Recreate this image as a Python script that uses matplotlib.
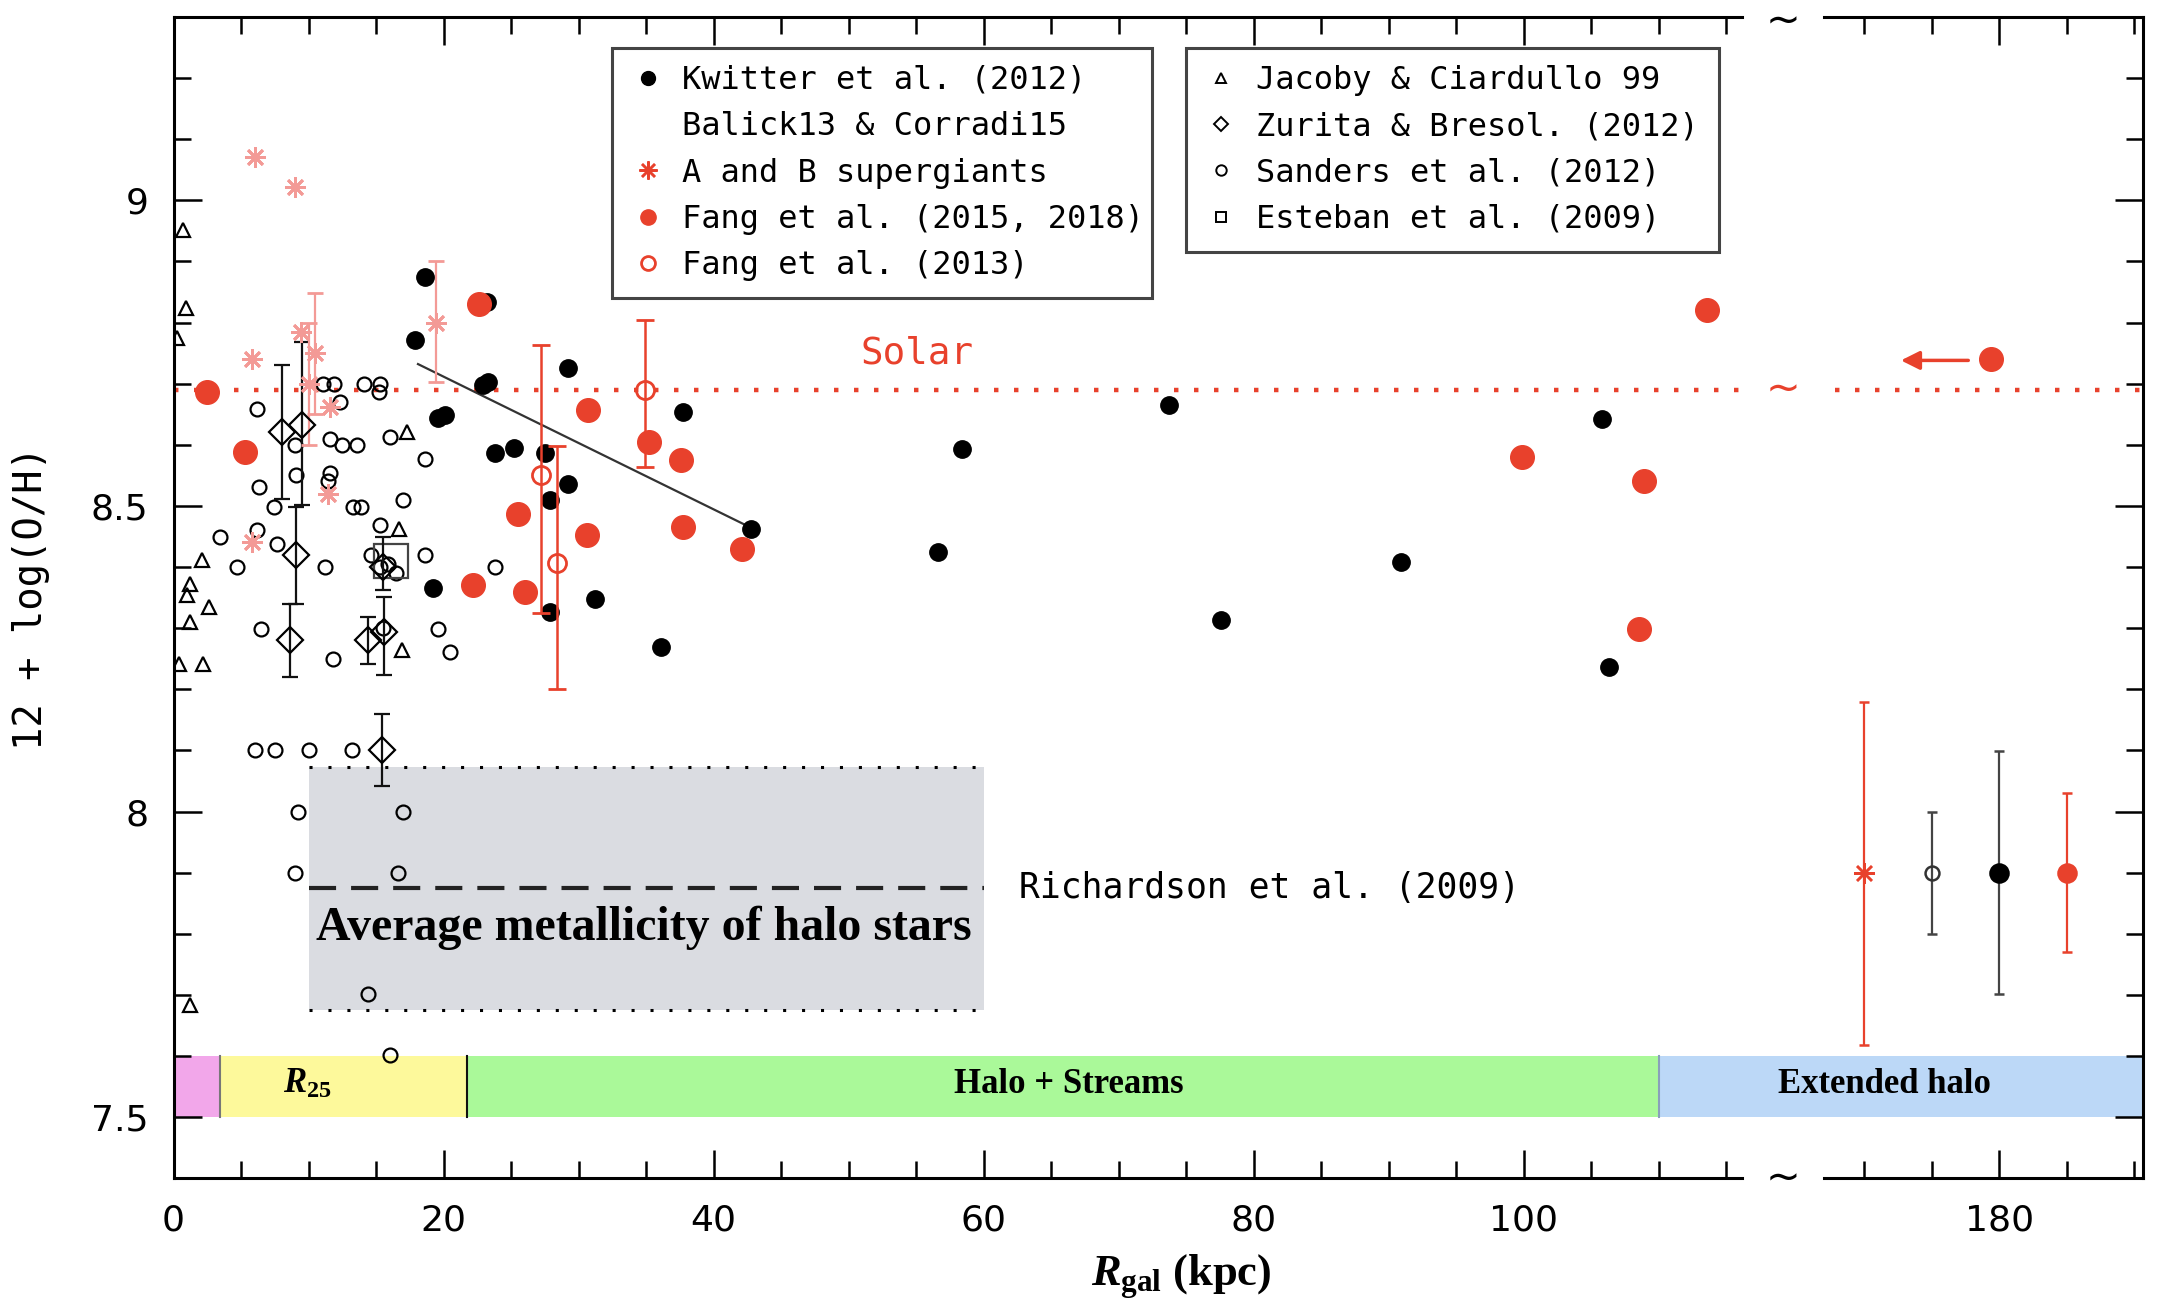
import numpy as np
import matplotlib
matplotlib.use('Agg')
from matplotlib import pyplot as plt
from matplotlib.lines import Line2D
from matplotlib.transforms import offset_copy

plt.rcParams['font.family'] = 'DejaVu Sans'
plt.rcParams['mathtext.fontset'] = 'custom'
plt.rcParams['mathtext.it'] = 'Liberation Serif:italic:bold'
plt.rcParams['mathtext.rm'] = 'Liberation Serif:bold'
plt.rcParams['mathtext.bf'] = 'Liberation Serif:bold'

RED = '#e8412c'
PINK = '#f39a96'
MONO = 'DejaVu Sans Mono'
STAR = (8, 2, 0)

# ---- data (R_gal in kpc, 12+log(O/H)) ----
kwitter_x = [18.6, 23.2, 17.9, 29.2, 23.3, 22.9, 37.7, 20.1, 19.6, 25.2, 23.8, 27.5, 29.2,
             27.9, 42.8, 19.2, 31.2, 27.9, 36.1, 56.6, 58.4, 73.7, 77.6, 90.9, 105.8, 106.3]
kwitter_y = [8.874, 8.834, 8.771, 8.725, 8.703, 8.697, 8.654, 8.648, 8.643, 8.594, 8.586, 8.586, 8.536,
             8.509, 8.463, 8.365, 8.348, 8.326, 8.269, 8.424, 8.593, 8.665, 8.313, 8.409, 8.642, 8.237]

fang15_x = [2.5, 5.3, 22.6, 30.7, 35.2, 37.6, 25.5, 30.6, 37.7, 42.1, 22.2, 26.0,
            99.9, 108.9, 108.5, 113.6, 179.4]
fang15_y = [8.686, 8.588, 8.831, 8.657, 8.605, 8.575, 8.487, 8.452, 8.465, 8.430, 8.370, 8.359,
            8.580, 8.541, 8.299, 8.821, 8.740]

fang13_x = [27.2, 28.4, 34.9]
fang13_y = [8.550, 8.406, 8.689]
fang13_lo = [8.325, 8.201, 8.563]
fang13_hi = [8.763, 8.598, 8.804]

ab_x = [6.0, 9.0, 5.8, 9.4, 11.6, 11.4, 5.8]
ab_y = [9.071, 9.021, 8.741, 8.785, 8.662, 8.520, 8.441]
ab_err_x = [10.5, 10.0, 19.4]
ab_err_y = [8.750, 8.700, 8.799]
ab_err_lo = [8.651, 8.600, 8.703]
ab_err_hi = [8.849, 8.800, 8.900]

jacoby_x = [0.7, 0.9, 0.25, 17.3, 2.1, 1.2, 1.0, 2.6, 1.2, 0.4, 2.2, 16.7, 16.9, 1.2]
jacoby_y = [8.951, 8.823, 8.774, 8.621, 8.411, 8.373, 8.354, 8.334, 8.310, 8.241, 8.241, 8.463, 8.264, 7.684]

zurita_x = [8.0, 9.5, 9.1, 8.6, 14.4, 15.5, 15.6, 15.4]
zurita_y = [8.621, 8.632, 8.419, 8.280, 8.280, 8.400, 8.294, 8.101]
zurita_lo = [8.512, 8.501, 8.340, 8.220, 8.242, 8.362, 8.223, 8.041]
zurita_hi = [8.730, 8.768, 8.498, 8.340, 8.318, 8.449, 8.351, 8.160]

sanders_x = [6.2, 11.1, 11.85, 12.3, 14.1, 15.3, 15.2, 11.6, 12.5, 13.6, 16.0, 9.0, 18.6, 6.3,
             9.1, 11.6, 11.4, 7.4, 13.3, 13.9, 17.0, 3.4, 6.2, 7.65, 4.7, 11.2, 15.3, 14.6,
             15.3, 15.9, 16.5, 18.6, 23.8, 6.5, 11.8, 15.5, 19.6, 20.5, 6.0, 7.5, 10.0, 13.2,
             9.2, 17.0, 9.0, 16.6, 14.4, 16.0]
sanders_y = [8.659, 8.700, 8.700, 8.670, 8.700, 8.700, 8.686, 8.610, 8.600, 8.600, 8.613, 8.600, 8.577, 8.531,
             8.550, 8.553, 8.540, 8.498, 8.498, 8.498, 8.509, 8.449, 8.460, 8.438, 8.400, 8.400, 8.468, 8.420,
             8.400, 8.405, 8.390, 8.419, 8.400, 8.299, 8.250, 8.300, 8.299, 8.261, 8.100, 8.100, 8.100, 8.100,
             8.000, 8.000, 7.900, 7.900, 7.701, 7.601]

esteban_x = [16.1]
esteban_y = [8.41]

# averages in the extended halo
halo_x = [170, 175, 180, 185]
halo_y = [7.9, 7.9, 7.9, 7.9]
halo_lo = [7.618, 7.799, 7.701, 7.770]
halo_hi = [8.180, 8.000, 8.099, 8.031]

fit_x = [18.1, 42.7]
fit_y = [8.732, 8.465]

solar = 8.69
richardson = 7.875
richardson_band = (7.675, 8.073)
richardson_x = (10, 60)

band_edges = [0, 3.4, 21.7, 110.0, 190.6]
band_colors = ['#f2a7ea', '#fdf99b', '#aaf999', '#bcd8f7']
band_names = ['', '$\\mathit{R}_{\\mathbf{25}}$', 'Halo + Streams', 'Extended halo']
band_text_x = [None, 9.9, 66.3, 171.5]

# ---- broken x axis ----
BRK0, BRK1, GAP = 116.2, 167.0, 6.03


def fwd(x):
    x = np.asarray(x, float)
    return np.where(x <= BRK0, x,
                    np.where(x >= BRK1, x - (BRK1 - BRK0) + GAP,
                             BRK0 + (x - BRK0) * GAP / (BRK1 - BRK0)))


def inv(u):
    u = np.asarray(u, float)
    return np.where(u <= BRK0, u,
                    np.where(u >= BRK0 + GAP, u + (BRK1 - BRK0) - GAP,
                             BRK0 + (u - BRK0) * (BRK1 - BRK0) / GAP))


fig = plt.figure(figsize=(21.62, 13.16), dpi=100)
ax = fig.add_axes([0.0803, 0.1046, 0.9107, 0.8826])
ax.set_xscale('function', functions=(fwd, inv))
ax.set_xlim(0, 190.6)
ax.set_ylim(7.4, 9.3)

# halo-star box
ax.fill_between(richardson_x, *richardson_band, color='#dadce1', lw=0, zorder=0)
for yb in richardson_band:
    ax.plot(richardson_x, [yb, yb], color='k', lw=2.2, ls=(0, (1, 5.2)), zorder=1)
ax.plot(richardson_x, [richardson, richardson], color='#222222', lw=3, ls=(0, (6.5, 3.6)), zorder=1)
ax.text(62.6, richardson, 'Richardson et al. (2009)', family=MONO, fontsize=25, va='center', ha='left')
ax.text(34.8, 7.79, 'Average metallicity of halo stars', family='Liberation Serif',
        weight='bold', fontsize=34.5, ha='center', va='baseline')

# region bands
for i in range(len(band_colors)):
    ax.fill_between([band_edges[i], band_edges[i + 1]], 7.5, 7.6, color=band_colors[i], lw=0, zorder=0.5)
    if band_names[i]:
        ax.text(band_text_x[i], 7.553, band_names[i], family='Liberation Serif', weight='bold',
                fontsize=25, ha='center', va='center')
for xe, c in zip(band_edges[1:4], ['#777777', '#111111', '#8aa0bb']):
    ax.plot([xe, xe], [7.5, 7.6], color=c, lw=1.5, zorder=0.6)

# solar line
ax.plot([0, BRK0], [solar, solar], color=RED, lw=3.2, ls=(0, (1, 3.5)), zorder=1)
ax.plot([BRK1 + 0.8, 190.6], [solar, solar], color=RED, lw=3.2, ls=(0, (1, 3.5)), zorder=1)
ax.text(55.1, 8.749, 'Solar', color=RED, family=MONO, fontsize=27, ha='center', va='center')

# gradient fit
ax.plot(fit_x, fit_y, color='#333333', lw=1.6, zorder=2)

# data
ax.plot(jacoby_x, jacoby_y, ls='none', marker='^', ms=10, mfc='none', mec='k', mew=1.6, zorder=3)
ax.plot(sanders_x, sanders_y, ls='none', marker='o', ms=10, mfc='none', mec='k', mew=1.6, zorder=3)
ax.plot(esteban_x, esteban_y, ls='none', marker='s', ms=24, mfc='none', mec='#444444', mew=1.6, zorder=3)
ax.errorbar(zurita_x, zurita_y,
            yerr=[np.subtract(zurita_y, zurita_lo), np.subtract(zurita_hi, zurita_y)],
            fmt='D', ms=13, mfc='none', mec='k', mew=1.6, ecolor='#111111', elinewidth=1.6,
            capsize=5.5, capthick=1.6, zorder=3)
ax.plot(ab_x, ab_y, ls='none', marker=STAR, ms=15, color=PINK, mew=2, zorder=3)
ax.errorbar(ab_err_x, ab_err_y,
            yerr=[np.subtract(ab_err_y, ab_err_lo), np.subtract(ab_err_hi, ab_err_y)],
            fmt='', ls='none', marker=STAR, ms=15, color=PINK, mew=2, ecolor=PINK,
            elinewidth=1.6, capsize=5.5, capthick=1.6, zorder=3)
ax.plot(kwitter_x, kwitter_y, ls='none', marker='o', ms=12.5, color='k', zorder=4)
ax.plot(fang15_x, fang15_y, ls='none', marker='o', ms=17, color=RED, zorder=4)
ax.errorbar(fang13_x, fang13_y,
            yerr=[np.subtract(fang13_y, fang13_lo), np.subtract(fang13_hi, fang13_y)],
            fmt='o', ms=13, mfc='none', mec=RED, mew=2, ecolor=RED, elinewidth=1.8,
            capsize=6.5, capthick=1.8, zorder=4)

# averages in the extended halo
halo_err = [np.subtract(halo_y, halo_lo), np.subtract(halo_hi, halo_y)]
halo_style = [dict(marker=STAR, color=RED, mfc=RED, ms=15, ecolor=RED),
              dict(marker='o', color='#333333', mfc='none', ms=10, ecolor='#444444'),
              dict(marker='o', color='k', mfc='k', ms=13, ecolor='#444444'),
              dict(marker='o', color=RED, mfc=RED, ms=13, ecolor=RED)]
for i, st in enumerate(halo_style):
    ax.errorbar([halo_x[i]], [halo_y[i]], yerr=[[halo_err[0][i]], [halo_err[1][i]]], fmt='', ls='none',
                elinewidth=1.6, capsize=3.5, capthick=1.6, mew=1.8, zorder=4, **st)

ax.annotate('', xy=(172.5, 8.738), xytext=(177.9, 8.738),
            arrowprops=dict(arrowstyle='-|>', color=RED, lw=2.5, mutation_scale=28))

# axes, ticks, broken spines
ax.spines['top'].set_visible(False)
ax.spines['bottom'].set_visible(False)
for s in ['left', 'right']:
    ax.spines[s].set_linewidth(2.2)
xt = ax.get_xaxis_transform()
for yy in (0, 1):
    ax.plot([0, BRK0], [yy, yy], color='k', lw=2.2, transform=xt, clip_on=False, zorder=6)
    ax.plot([BRK1, 190.6], [yy, yy], color='k', lw=2.2, transform=xt, clip_on=False, zorder=6)
    ax.text(141.6, yy, '~', transform=offset_copy(xt, fig, y=-3 * yy, units='points'),
            fontsize=30, ha='center', va='center')
ax.text(141.6, solar, '~', color=RED, fontsize=30, ha='center', va='center')

major_x = [0, 20, 40, 60, 80, 100, 180]
minor_x = [v for v in range(5, 116, 5) if v % 20] + [170, 175, 185, 190]
ax.set_xticks(major_x)
ax.set_xticklabels([str(v) for v in major_x])
ax.set_xticks(minor_x, minor=True)
ax.set_yticks([7.5, 8, 8.5, 9])
ax.set_yticklabels(['7.5', '8', '8.5', '9'])
ax.set_yticks(np.round(np.arange(7.4, 9.31, 0.1), 2), minor=True)
ax.tick_params(which='both', direction='in', top=True, right=True, width=1.8, labelsize=26)
ax.tick_params(which='major', length=20, pad=18)
ax.tick_params(which='minor', length=12)

ax.set_ylabel('12 + log(O/H)', family=MONO, fontsize=28)
ax.yaxis.set_label_coords(-0.063, 0.5)
ax.set_xlabel('$\\mathit{R}_{\\mathrm{gal}}$ (kpc)', family='Liberation Serif', weight='bold', fontsize=32)
ax.xaxis.set_label_coords(0.5116, -0.064)

# legends
h1 = [Line2D([], [], ls='none', marker='o', ms=10, color='k'),
      Line2D([], [], ls='none', marker=''),
      Line2D([], [], ls='none', marker=STAR, ms=13, color=RED, mew=1.8),
      Line2D([], [], ls='none', marker='o', ms=11, color=RED),
      Line2D([], [], ls='none', marker='o', ms=10, mfc='none', mec=RED, mew=2)]
l1 = ['Kwitter et al. (2012)', 'Balick13 & Corradi15', 'A and B supergiants',
      'Fang et al. (2015, 2018)', 'Fang et al. (2013)']
h2 = [Line2D([], [], ls='none', marker='^', ms=7.5, mfc='none', mec='k', mew=1.4),
      Line2D([], [], ls='none', marker='D', ms=7.5, mfc='none', mec='k', mew=1.4),
      Line2D([], [], ls='none', marker='o', ms=7.5, mfc='none', mec='k', mew=1.4),
      Line2D([], [], ls='none', marker='s', ms=7.5, mfc='none', mec='k', mew=1.4)]
l2 = ['Jacoby & Ciardullo 99', 'Zurita & Bresol. (2012)', 'Sanders et al. (2012)',
      'Esteban et al. (2009)']
leg_kw = dict(loc='upper left', mode='expand', borderaxespad=0, labelspacing=0.48,
              prop={'family': MONO, 'size': 23},
              borderpad=0.52, handlelength=1.2, handletextpad=0.48, fancybox=False, framealpha=1,
              edgecolor='#444444')
leg1 = ax.legend(h1, l1, bbox_to_anchor=(0.2227, 0, 0.2742, 0.9729), **leg_kw)
leg1.get_frame().set_linewidth(2.2)
ax.add_artist(leg1)
leg2 = ax.legend(h2, l2, bbox_to_anchor=(0.5140, 0, 0.2707, 0.9729), **leg_kw)
leg2.get_frame().set_linewidth(2.2)

fig.savefig('out.png', dpi=100)
